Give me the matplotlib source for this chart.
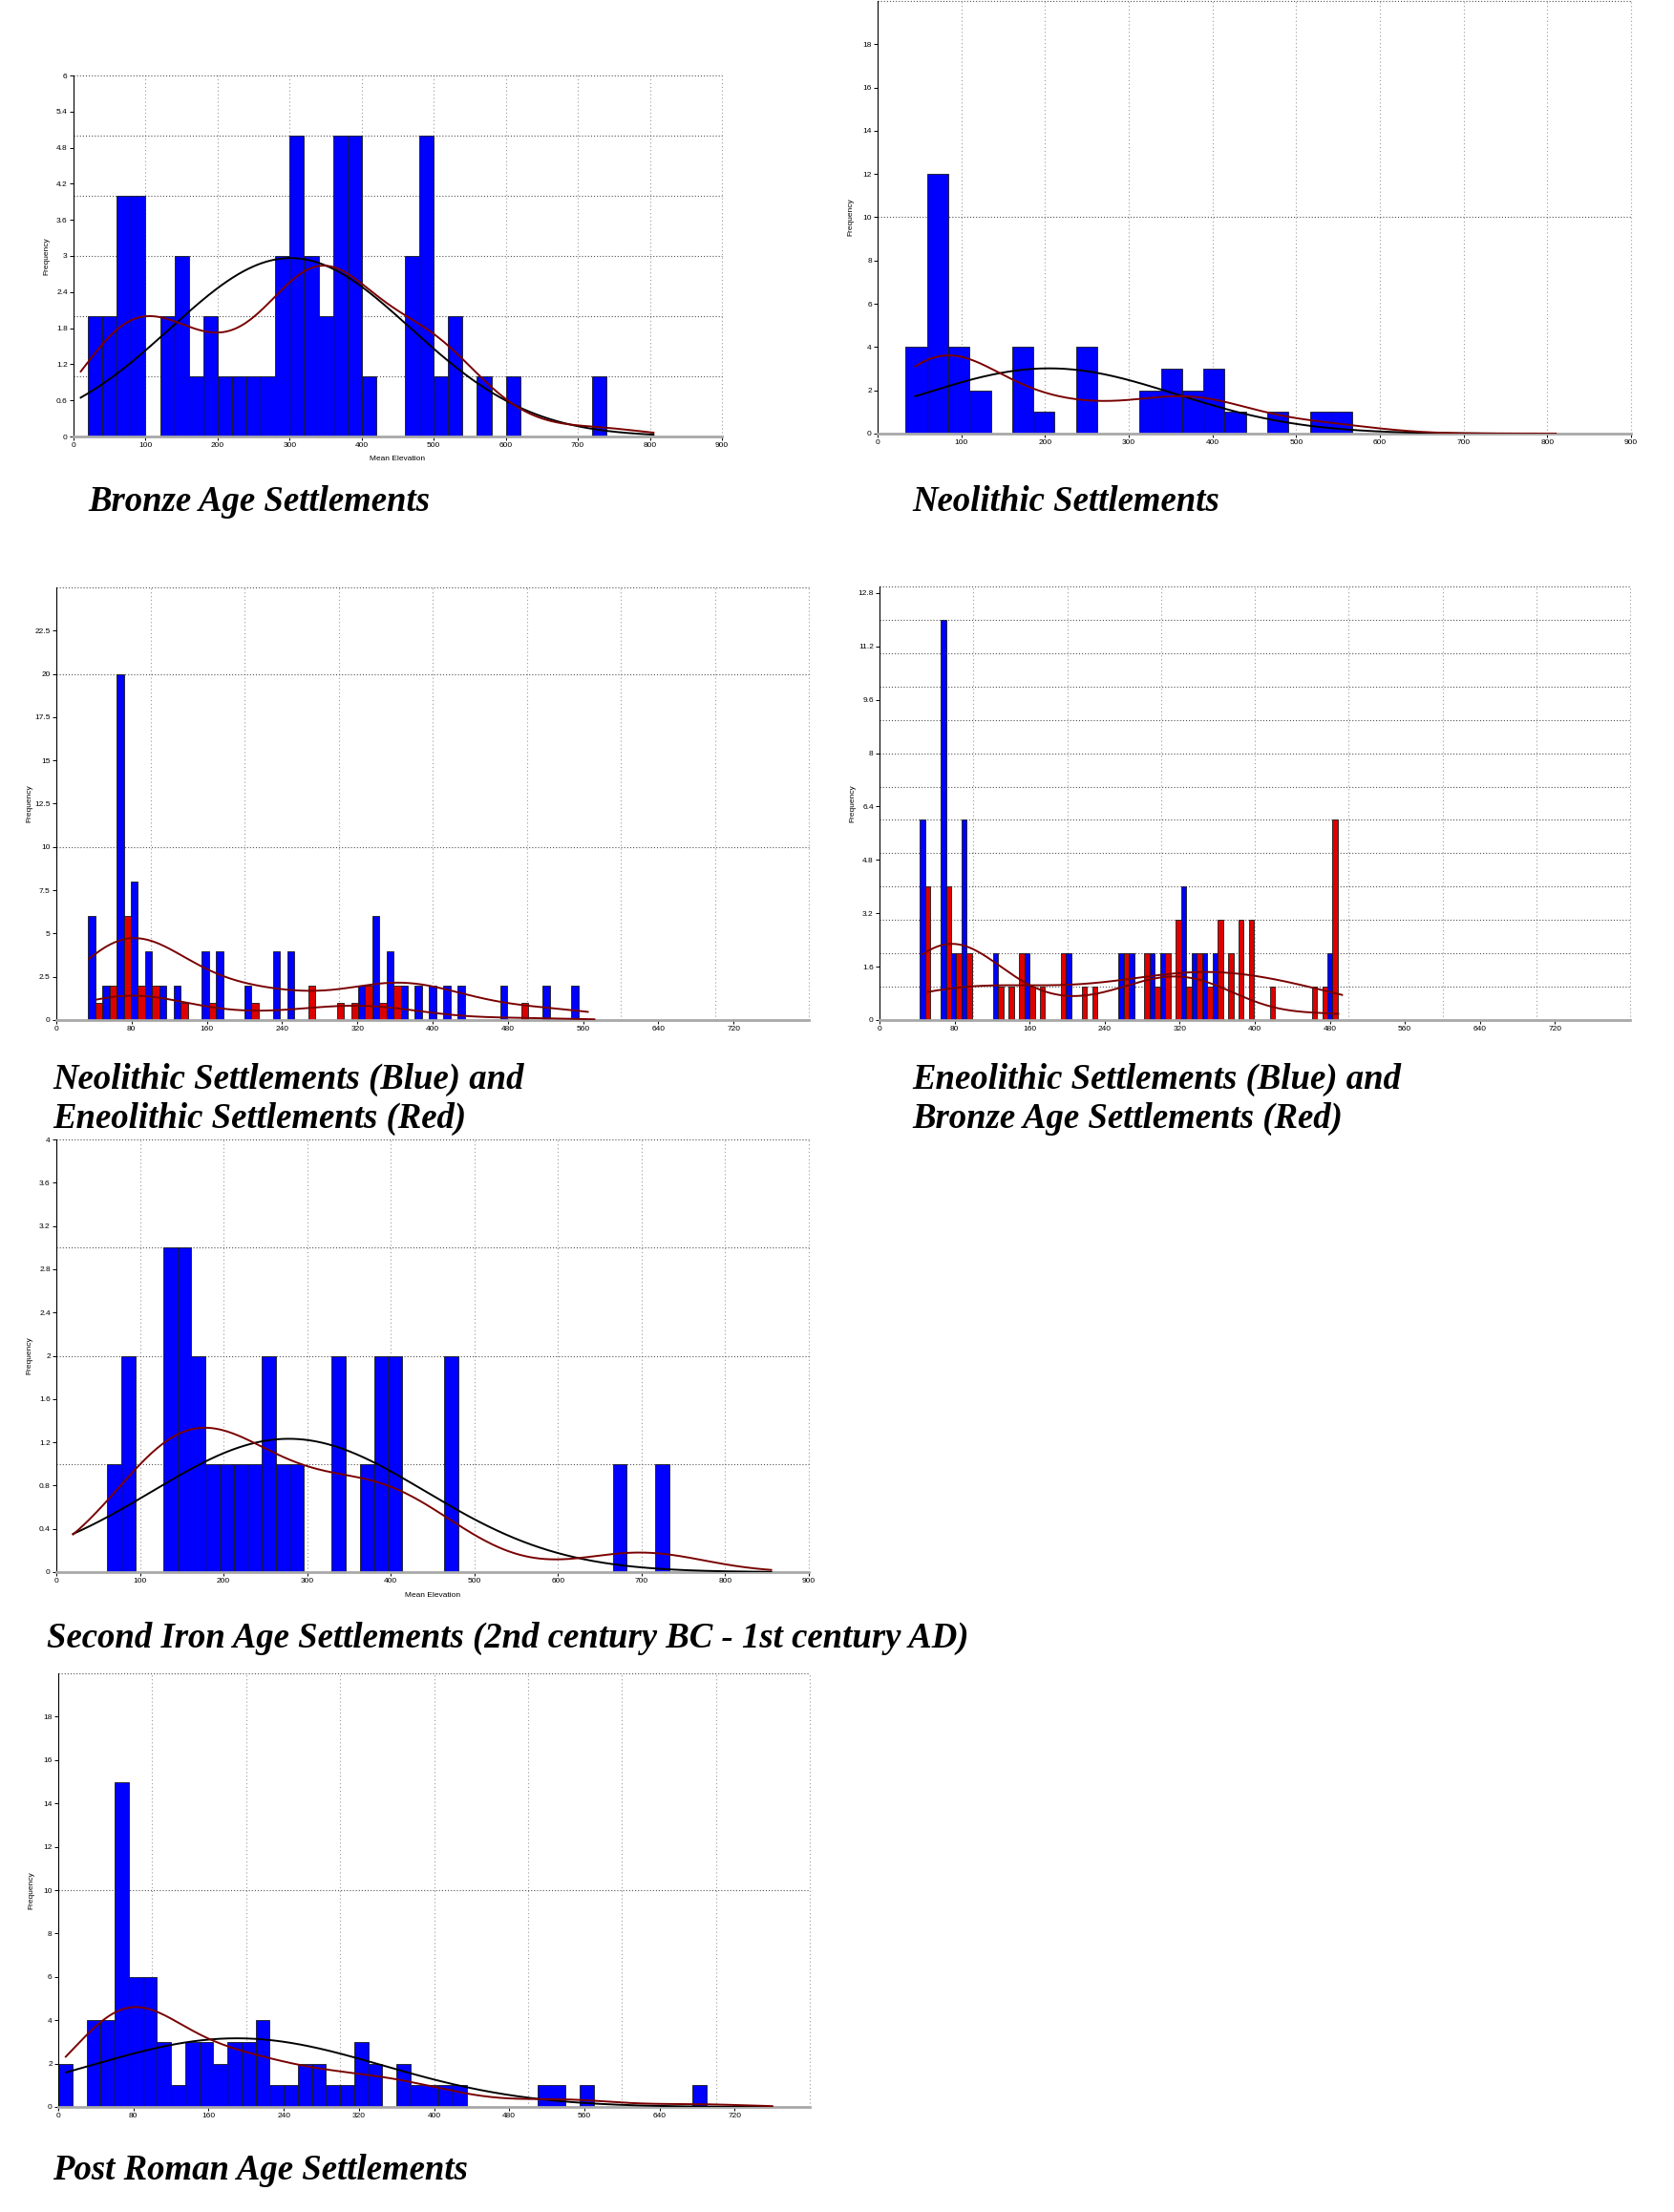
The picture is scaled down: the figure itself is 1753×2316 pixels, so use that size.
import numpy as np
import matplotlib.pyplot as plt

W, H = 1753, 2316

# ---- histogram data: first bin edge, bin width, counts per bin ----
bronze_start, bronze_width = 20.0, 20.0
bronze_counts = [2, 2, 4, 4, 0, 2, 3, 1, 2, 1, 1, 1, 1, 3, 5, 3, 2, 5, 5, 1,
                 0, 0, 3, 5, 1, 2, 0, 1, 0, 1, 0, 0, 0, 0, 0, 1]

neolithic_start, neolithic_width = 33.6, 25.4
neolithic_counts = [4, 12, 4, 2, 0, 4, 1, 0, 4, 0, 0, 2, 3, 2, 3, 1, 0, 1, 0, 1, 1]

neo_eneo_start, neo_eneo_width = 33.9, 15.1
neo_eneo_blue = [6, 2, 20, 8, 4, 2, 2, 0, 4, 4, 0, 2, 0, 4, 4, 0, 0, 0, 0, 2,
                 6, 4, 2, 2, 2, 2, 2, 0, 0, 2, 0, 0, 2, 0, 2]
neo_eneo_red = [1, 2, 6, 2, 2, 0, 1, 0, 1, 0, 0, 1, 0, 0, 0, 2, 0, 1, 1, 2,
                1, 2, 0, 0, 0, 0, 0, 0, 0, 0, 1, 0, 0, 0, 0]

eneo_bronze_start, eneo_bronze_width = 42.9, 11.14
eneo_bronze_blue = [6, 0, 12, 2, 6, 0, 0, 2, 0, 0, 2, 0, 0, 0, 2, 0, 0, 0, 0, 2,
                    2, 0, 2, 2, 0, 4, 2, 2, 2, 0, 0, 0, 0, 0, 0, 0, 0, 0, 0, 2]
eneo_bronze_red = [4, 0, 4, 2, 2, 0, 0, 1, 1, 2, 1, 1, 0, 2, 0, 1, 1, 0, 0, 2,
                   0, 2, 1, 2, 3, 1, 2, 1, 3, 2, 3, 3, 0, 1, 0, 0, 0, 1, 1, 6]

iron_start, iron_width = 60.7, 16.8
iron_counts = [1, 2, 0, 0, 3, 3, 2, 1, 1, 1, 1, 2, 1, 1, 0, 0, 2, 0, 1, 2,
               2, 0, 0, 0, 2, 0, 0, 0, 0, 0, 0, 0, 0, 0, 0, 0, 1, 0, 0, 1]

roman_start, roman_width = 0.0, 15.0
roman_counts = [2, 0, 4, 4, 15, 6, 6, 3, 1, 3, 3, 2, 3, 3, 4, 1, 1, 2, 2, 1,
                1, 3, 2, 0, 2, 1, 1, 1, 1, 0, 0, 0, 0, 0, 1, 1, 0, 1, 0, 0,
                0, 0, 0, 0, 0, 1]
# normal curve of the post roman chart, mean and sd
roman_normal = (190, 155)

# smoothing bandwidth and span of the fitted curves
bronze_bw, bronze_span = 63, (10, 805)
neolithic_bw, neolithic_span = 63, (45, 810)
neo_bw, neo_span = 55, (35, 565)
eneo_red_bw, eneo_red_span = 58, (43, 572)
eneo_bw, eneo_span = 52, (46, 489)
bronze_red_bw, bronze_red_span = 80, (52, 493)
iron_bw, iron_span = 70, (20, 855)
roman_bw, roman_span = 52, (8, 760)

titles = [
    ("Bronze Age Settlements", 92, 535),
    ("Neolithic Settlements", 955, 535),
    ("Neolithic Settlements (Blue) and", 55, 1140),
    ("Eneolithic Settlements (Red)", 55, 1181),
    ("Eneolithic Settlements (Blue) and", 955, 1140),
    ("Bronze Age Settlements (Red)", 955, 1181),
    ("Second Iron Age Settlements (2nd century BC - 1st century AD)", 49, 1725),
    ("Post Roman Age Settlements", 55, 2282),
]

BLUE = '#0000ff'
RED = '#dd0000'
DARKRED = '#7a0000'
SANS = ['Liberation Sans', 'DejaVu Sans']

fig = plt.figure(figsize=(W / 100, H / 100), dpi=100)
fig.patch.set_facecolor('white')


def mids(start, width, counts):
    c = np.asarray(counts, float)
    return start + width * (np.arange(len(c)) + 0.5), c


def normal_fit(start, width, counts, span, params=None):
    m, c = mids(start, width, counts)
    n = c.sum()
    if params is None:
        mu = (m * c).sum() / n
        sd = np.sqrt(((m - mu) ** 2 * c).sum() / (n - 1))
    else:
        mu, sd = params
    x = np.linspace(span[0], span[1], 400)
    y = n * width / (sd * np.sqrt(2 * np.pi)) * np.exp(-0.5 * ((x - mu) / sd) ** 2)
    return x, y


def kde_fit(start, width, counts, bw, span):
    m, c = mids(start, width, counts)
    n = c.sum()
    x = np.linspace(span[0], span[1], 400)
    k = np.exp(-0.5 * ((x[:, None] - m[None, :]) / bw) ** 2) * c[None, :]
    y = k.sum(1) / (n * bw * np.sqrt(2 * np.pi)) * n * width
    return x, y


def make_axes(rect, xmax, xticks, vgrid, ymax, yticks, hgrid, xlabel=False):
    l, t, r, b = rect
    ax = fig.add_axes([l / W, 1 - b / H, (r - l) / W, (b - t) / H])
    ax.set_xlim(0, xmax)
    ax.set_ylim(0, ymax)
    ax.set_xticks(xticks)
    ax.set_xticklabels(['%d' % v for v in xticks])
    ax.set_yticks(yticks)
    ax.set_yticklabels(['%g' % round(v, 3) for v in yticks])
    for g in vgrid:
        ax.axvline(g, color='#9a9a9a', lw=0.8, ls=(0, (1, 2.5)), zorder=0.5, clip_on=False)
    for g in hgrid:
        ax.axhline(g, color='#505050', lw=0.8, ls=(0, (1, 1.8)), zorder=0.5, clip_on=False)
    for s in ['top', 'right']:
        ax.spines[s].set_visible(False)
    ax.spines['left'].set_color('black')
    ax.spines['left'].set_linewidth(0.8)
    ax.spines['bottom'].set_color('#a8a8a8')
    ax.spines['bottom'].set_linewidth(2.0)
    ax.tick_params(length=3, width=0.7, pad=1.5, labelsize=6, colors='black')
    for lab in ax.get_xticklabels() + ax.get_yticklabels():
        lab.set_family(SANS)
    fig.text((l - 28) / W, 1 - (t + b) / 2 / H, 'Frequency', rotation=90,
             ha='center', va='center', fontsize=6, family=SANS)
    if xlabel:
        fig.text((l + r) / 2 / W, 1 - (b + 24) / H, 'Mean Elevation',
                 ha='center', va='center', fontsize=6, family=SANS)
    return ax


def bars(ax, start, width, counts, color, offset=0.0, frac=1.0):
    c = np.asarray(counts, float)
    left = start + width * np.arange(len(c)) + offset * width
    keep = c > 0
    ax.bar(left[keep], c[keep], width=width * frac, align='edge', color=color,
           edgecolor='#1a1a1a', linewidth=0.6, zorder=2)


# ---- Bronze Age ----
ax = make_axes((77, 79, 756, 457), 900, np.arange(0, 901, 100), np.arange(100, 901, 100),
               6, np.arange(0, 6.01, 0.6), np.arange(1, 7), xlabel=True)
bars(ax, bronze_start, bronze_width, bronze_counts, BLUE)
ax.plot(*normal_fit(bronze_start, bronze_width, bronze_counts, bronze_span), color='black', lw=1.4, zorder=3)
ax.plot(*kde_fit(bronze_start, bronze_width, bronze_counts, bronze_bw, bronze_span), color=DARKRED, lw=1.4, zorder=3)

# ---- Neolithic ----
ax = make_axes((919, 1, 1708, 454), 900, np.arange(0, 901, 100), np.arange(100, 901, 100),
               20, np.arange(0, 19, 2), [10, 20])
bars(ax, neolithic_start, neolithic_width, neolithic_counts, BLUE)
ax.plot(*normal_fit(neolithic_start, neolithic_width, neolithic_counts, neolithic_span), color='black', lw=1.4, zorder=3)
ax.plot(*kde_fit(neolithic_start, neolithic_width, neolithic_counts, neolithic_bw, neolithic_span), color=DARKRED, lw=1.4, zorder=3)

# ---- Neolithic (blue) vs Eneolithic (red) ----
ax = make_axes((59, 615, 847, 1068), 800, np.arange(0, 721, 80), np.arange(100, 801, 100),
               25, np.arange(0, 22.6, 2.5), [10, 20, 25])
bars(ax, neo_eneo_start, neo_eneo_width, neo_eneo_blue, BLUE, 0.0, 0.5)
bars(ax, neo_eneo_start, neo_eneo_width, neo_eneo_red, RED, 0.5, 0.5)
ax.plot(*kde_fit(neo_eneo_start, neo_eneo_width, neo_eneo_blue, neo_bw, neo_span), color=DARKRED, lw=1.4, zorder=3)
ax.plot(*kde_fit(neo_eneo_start, neo_eneo_width, neo_eneo_red, eneo_red_bw, eneo_red_span), color=DARKRED, lw=1.4, zorder=3)

# ---- Eneolithic (blue) vs Bronze Age (red) ----
ax = make_axes((921, 614, 1707, 1068), 800, np.arange(0, 721, 80), np.arange(100, 801, 100),
               13, np.arange(0, 12.81, 1.6), np.arange(1, 14))
bars(ax, eneo_bronze_start, eneo_bronze_width, eneo_bronze_blue, BLUE, 0.0, 0.5)
bars(ax, eneo_bronze_start, eneo_bronze_width, eneo_bronze_red, RED, 0.5, 0.5)
ax.plot(*kde_fit(eneo_bronze_start, eneo_bronze_width, eneo_bronze_blue, eneo_bw, eneo_span), color=DARKRED, lw=1.4, zorder=3)
ax.plot(*kde_fit(eneo_bronze_start, eneo_bronze_width, eneo_bronze_red, bronze_red_bw, bronze_red_span), color=DARKRED, lw=1.4, zorder=3)

# ---- Second Iron Age ----
ax = make_axes((59, 1193, 847, 1646), 900, np.arange(0, 901, 100), np.arange(100, 901, 100),
               4, np.arange(0, 4.01, 0.4), np.arange(1, 5), xlabel=True)
bars(ax, iron_start, iron_width, iron_counts, BLUE)
ax.plot(*normal_fit(iron_start, iron_width, iron_counts, iron_span), color='black', lw=1.4, zorder=3)
ax.plot(*kde_fit(iron_start, iron_width, iron_counts, iron_bw, iron_span), color=DARKRED, lw=1.4, zorder=3)

# ---- Post Roman ----
ax = make_axes((61, 1752, 848, 2206), 800, np.arange(0, 721, 80), np.arange(100, 801, 100),
               20, np.arange(0, 19, 2), [10, 20])
bars(ax, roman_start, roman_width, roman_counts, BLUE)
ax.plot(*normal_fit(roman_start, roman_width, roman_counts, roman_span, roman_normal), color='black', lw=1.4, zorder=3)
ax.plot(*kde_fit(roman_start, roman_width, roman_counts, roman_bw, roman_span), color=DARKRED, lw=1.4, zorder=3)

for text, x, y in titles:
    fig.text(x / W, 1 - y / H, text, ha='left', va='baseline', fontsize=26.5,
             family=['Liberation Serif', 'DejaVu Serif'], weight='bold', style='italic')

fig.savefig('out.png', dpi=100, facecolor='white')
